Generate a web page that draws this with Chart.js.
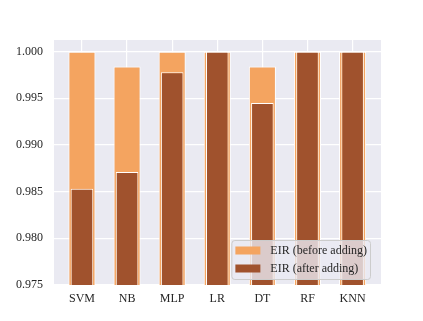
<!DOCTYPE html>
<html>
<head>
<meta charset="utf-8">
<script src="https://cdn.jsdelivr.net/npm/chart.js@4/dist/chart.umd.min.js"></script>
<style>
  body { margin: 0; background: #fff; }
  canvas { display: block; }
</style>
</head>
<body>
<canvas id="eirChart" width="423" height="321"></canvas>
<script>
const categories = ['SVM', 'NB', 'MLP', 'LR', 'DT', 'RF', 'KNN']
const eirBefore = [1.0, 0.9984, 1.0, 1.0, 0.9984, 1.0, 1.0]
const eirAfter = [0.9853, 0.9871, 0.9978, 1.0, 0.9945, 1.0, 1.0]
const seriesLabels = ['EIR (before adding)', 'EIR (after adding)']
const yTicks = { min: 0.975, max: 1.00125, step: 0.005 }

const FONT = '"Liberation Serif", "Times New Roman", serif'
const TEXT = '#262626'

// grey seaborn-like panel behind the plot
const panelBg = {
  id: 'panelBg',
  beforeDraw(chart) {
    const { ctx, chartArea: a } = chart
    ctx.save()
    ctx.fillStyle = '#EAEAF2'
    ctx.fillRect(a.left, a.top, a.right - a.left, a.bottom - a.top)
    ctx.restore()
  },
}

// legend box in the lower right, drawn over the bars like matplotlib does
const cornerLegend = {
  id: 'cornerLegend',
  afterDraw(chart) {
    const { ctx, chartArea: a } = chart
    const sets = chart.data.datasets
    ctx.save()
    ctx.font = '12px ' + FONT
    const textW = Math.max(...sets.map((d) => ctx.measureText(d.label).width))
    const w = 4 + 25 + 10 + textW + 3
    const h = 39
    const x = a.right - 11 - w
    const y = a.bottom - 6 - h
    ctx.beginPath()
    ctx.roundRect(x + 0.5, y + 0.5, w, h, 3)
    ctx.fillStyle = 'rgba(234,234,242,0.8)'
    ctx.fill()
    ctx.strokeStyle = '#cccccc'
    ctx.lineWidth = 1
    ctx.stroke()
    ctx.textBaseline = 'middle'
    sets.forEach((d, i) => {
      const cy = y + 10.5 + i * 18
      ctx.fillStyle = d.backgroundColor
      ctx.fillRect(x + 4, cy - 4, 25, 8)
      ctx.fillStyle = TEXT
      ctx.fillText(d.label, x + 39, cy + 0.5)
    })
    ctx.restore()
  },
}

const ctx = document.getElementById('eirChart').getContext('2d')
new Chart(ctx, {
  type: 'bar',
  data: {
    datasets: [
      {
        label: seriesLabels[0],
        data: eirBefore.map((v, i) => ({ x: i, y: v })),
        backgroundColor: '#F4A460',
        borderColor: '#ffffff',
        borderWidth: 1,
        grouped: false,
        categoryPercentage: 1,
        barPercentage: 0.6,
        order: 1,
      },
      {
        label: seriesLabels[1],
        data: eirAfter.map((v, i) => ({ x: i, y: v })),
        backgroundColor: '#A0522D',
        borderColor: '#ffffff',
        borderWidth: 1,
        grouped: false,
        categoryPercentage: 1,
        barPercentage: 0.5,
        order: 0,
      },
    ],
  },
  options: {
    responsive: false,
    animation: false,
    devicePixelRatio: 1,
    layout: { padding: { top: 40, right: 42, left: 0, bottom: 0 } },
    scales: {
      x: {
        type: 'linear',
        min: -0.62,
        max: categories.length - 1 + 0.63,
        offset: false,
        afterFit: (axis) => { axis.height = 36 },
        grid: { color: '#ffffff', lineWidth: 1.2, drawTicks: false, offset: false },
        border: { display: false },
        ticks: {
          stepSize: 1,
          includeBounds: false,
          autoSkip: false,
          maxRotation: 0,
          padding: 7,
          color: TEXT,
          font: { family: FONT, size: 12 },
          callback: (v) => categories[v],
        },
      },
      y: {
        min: yTicks.min,
        max: yTicks.max,
        beginAtZero: false,
        afterFit: (axis) => { axis.width = 54 },
        grid: { color: '#ffffff', lineWidth: 1.2, drawTicks: false },
        border: { display: false },
        ticks: {
          stepSize: yTicks.step,
          includeBounds: false,
          padding: 11,
          color: TEXT,
          font: { family: FONT, size: 12 },
          callback: (v) => v.toFixed(3),
        },
      },
    },
    plugins: {
      legend: { display: false },
      tooltip: { enabled: false },
    },
  },
  plugins: [panelBg, cornerLegend],
})
</script>
</body>
</html>
